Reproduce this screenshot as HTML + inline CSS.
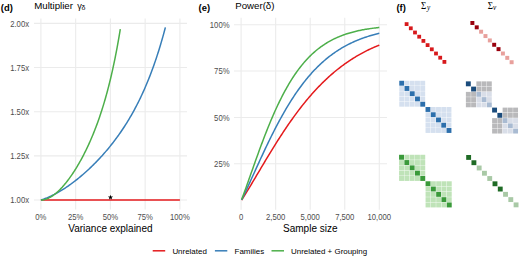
<!DOCTYPE html>
<html><head><meta charset="utf-8"><style>
html,body{margin:0;padding:0;background:#fff;width:520px;height:257px;overflow:hidden}
svg{display:block}
text{font-family:"Liberation Sans", sans-serif}
.tk{font-size:7.7px;fill:#4d4d4d}
.at{font-size:10px;fill:#000}
.tag{font-size:9.4px;font-weight:bold;fill:#000}
.tt{font-size:9.7px;fill:#000}
.sym{font-family:"Liberation Sans",sans-serif;font-size:9.2px}
.sub{font-size:7px}
.sg{font-family:"Liberation Serif",serif;font-size:9px;fill:#000}
.sub2{font-family:"Liberation Serif",serif;font-style:italic;font-size:7.2px}
.lg{font-size:7.95px;fill:#000}
</style></head><body>
<svg width="520" height="257" viewBox="0 0 520 257">
<rect width="520" height="257" fill="#fff"/>
<line x1="34.0" x2="187.0" y1="200.00" y2="200.00" stroke="#ebebeb" stroke-width="1.1"/>
<line x1="34.0" x2="187.0" y1="155.85" y2="155.85" stroke="#ebebeb" stroke-width="1.1"/>
<line x1="34.0" x2="187.0" y1="111.70" y2="111.70" stroke="#ebebeb" stroke-width="1.1"/>
<line x1="34.0" x2="187.0" y1="67.55" y2="67.55" stroke="#ebebeb" stroke-width="1.1"/>
<line x1="34.0" x2="187.0" y1="23.40" y2="23.40" stroke="#ebebeb" stroke-width="1.1"/>
<line y1="18.5" y2="209.5" x1="40.90" x2="40.90" stroke="#ebebeb" stroke-width="1.1"/>
<line y1="18.5" y2="209.5" x1="75.65" x2="75.65" stroke="#ebebeb" stroke-width="1.1"/>
<line y1="18.5" y2="209.5" x1="110.40" x2="110.40" stroke="#ebebeb" stroke-width="1.1"/>
<line y1="18.5" y2="209.5" x1="145.15" x2="145.15" stroke="#ebebeb" stroke-width="1.1"/>
<line y1="18.5" y2="209.5" x1="179.90" x2="179.90" stroke="#ebebeb" stroke-width="1.1"/>
<text transform="translate(29.0,203.10) scale(1,1.1)" text-anchor="end" class="tk">1.00x</text>
<text transform="translate(29.0,158.95) scale(1,1.1)" text-anchor="end" class="tk">1.25x</text>
<text transform="translate(29.0,114.80) scale(1,1.1)" text-anchor="end" class="tk">1.50x</text>
<text transform="translate(29.0,70.65) scale(1,1.1)" text-anchor="end" class="tk">1.75x</text>
<text transform="translate(29.0,26.50) scale(1,1.1)" text-anchor="end" class="tk">2.00x</text>
<text transform="translate(40.90,219.8) scale(1,1.1)" text-anchor="middle" class="tk">0%</text>
<text transform="translate(75.65,219.8) scale(1,1.1)" text-anchor="middle" class="tk">25%</text>
<text transform="translate(110.40,219.8) scale(1,1.1)" text-anchor="middle" class="tk">50%</text>
<text transform="translate(145.15,219.8) scale(1,1.1)" text-anchor="middle" class="tk">75%</text>
<text transform="translate(179.90,219.8) scale(1,1.1)" text-anchor="middle" class="tk">100%</text>
<text x="110.4" y="231.9" text-anchor="middle" class="at">Variance explained</text>
<text x="0.8" y="10.9" class="tag">(d)</text>
<text x="34.2" y="9.1" class="tt">Multiplier</text>
<text x="77.3" y="8.8" class="sym">γ</text>
<text x="81.4" y="10.3" class="sub">δ</text>
<path d="M40.90,200.00 L179.90,200.00" stroke="#E41A1C" stroke-width="1.5" fill="none"/>
<path d="M40.90,200.00 L41.74,199.74 L42.57,199.46 L43.41,199.18 L44.24,198.88 L45.08,198.57 L45.91,198.25 L46.75,197.92 L47.58,197.57 L48.42,197.22 L49.26,196.85 L50.09,196.48 L50.93,196.09 L51.76,195.70 L52.60,195.29 L53.43,194.87 L54.27,194.45 L55.10,194.01 L55.94,193.57 L56.78,193.11 L57.61,192.65 L58.45,192.17 L59.28,191.69 L60.12,191.20 L60.95,190.69 L61.79,190.18 L62.62,189.66 L63.46,189.14 L64.30,188.60 L65.13,188.06 L65.97,187.50 L66.80,186.94 L67.64,186.37 L68.47,185.79 L69.31,185.20 L70.14,184.61 L70.98,184.00 L71.82,183.39 L72.65,182.77 L73.49,182.14 L74.32,181.51 L75.16,180.86 L75.99,180.21 L76.83,179.55 L77.67,178.88 L78.50,178.21 L79.34,177.52 L80.17,176.83 L81.01,176.13 L81.84,175.42 L82.68,174.70 L83.51,173.98 L84.35,173.25 L85.19,172.51 L86.02,171.76 L86.86,171.00 L87.69,170.24 L88.53,169.46 L89.36,168.68 L90.20,167.89 L91.03,167.09 L91.87,166.29 L92.71,165.47 L93.54,164.65 L94.38,163.81 L95.21,162.97 L96.05,162.12 L96.88,161.26 L97.72,160.39 L98.55,159.51 L99.39,158.62 L100.23,157.72 L101.06,156.81 L101.90,155.89 L102.73,154.96 L103.57,154.03 L104.40,153.08 L105.24,152.12 L106.07,151.14 L106.91,150.16 L107.75,149.17 L108.58,148.16 L109.42,147.14 L110.25,146.12 L111.09,145.07 L111.92,144.02 L112.76,142.95 L113.59,141.87 L114.43,140.78 L115.27,139.67 L116.10,138.55 L116.94,137.41 L117.77,136.26 L118.61,135.10 L119.44,133.92 L120.28,132.72 L121.11,131.51 L121.95,130.28 L122.79,129.03 L123.62,127.77 L124.46,126.49 L125.29,125.19 L126.13,123.87 L126.96,122.53 L127.80,121.17 L128.63,119.79 L129.47,118.40 L130.31,116.98 L131.14,115.53 L131.98,114.07 L132.81,112.58 L133.65,111.07 L134.48,109.53 L135.32,107.97 L136.16,106.39 L136.99,104.78 L137.83,103.14 L138.66,101.47 L139.50,99.77 L140.33,98.05 L141.17,96.29 L142.00,94.50 L142.84,92.68 L143.68,90.83 L144.51,88.95 L145.35,87.02 L146.18,85.07 L147.02,83.08 L147.85,81.05 L148.69,78.98 L149.52,76.87 L150.36,74.71 L151.20,72.52 L152.03,70.28 L152.87,68.00 L153.70,65.68 L154.54,63.30 L155.37,60.88 L156.21,58.40 L157.04,55.88 L157.88,53.30 L158.72,50.66 L159.55,47.97 L160.39,45.22 L161.22,42.41 L162.06,39.54 L162.89,36.60 L163.73,33.60 L164.56,30.53 L165.40,27.40" stroke="#377EB8" stroke-width="1.5" fill="none" stroke-linecap="butt"/>
<path d="M40.90,200.00 L41.43,199.99 L41.97,199.96 L42.50,199.91 L43.03,199.84 L43.56,199.76 L44.10,199.65 L44.63,199.53 L45.16,199.39 L45.70,199.24 L46.23,199.06 L46.76,198.87 L47.29,198.67 L47.83,198.45 L48.36,198.21 L48.89,197.95 L49.43,197.68 L49.96,197.40 L50.49,197.10 L51.02,196.79 L51.56,196.46 L52.09,196.12 L52.62,195.76 L53.16,195.39 L53.69,195.01 L54.22,194.61 L54.76,194.21 L55.29,193.78 L55.82,193.35 L56.35,192.90 L56.89,192.44 L57.42,191.96 L57.95,191.48 L58.49,190.98 L59.02,190.47 L59.55,189.95 L60.08,189.42 L60.62,188.87 L61.15,188.31 L61.68,187.75 L62.22,187.17 L62.75,186.57 L63.28,185.97 L63.81,185.36 L64.35,184.74 L64.88,184.10 L65.41,183.45 L65.95,182.80 L66.48,182.13 L67.01,181.45 L67.54,180.76 L68.08,180.06 L68.61,179.35 L69.14,178.63 L69.68,177.90 L70.21,177.16 L70.74,176.40 L71.27,175.64 L71.81,174.87 L72.34,174.08 L72.87,173.28 L73.41,172.48 L73.94,171.66 L74.47,170.83 L75.00,170.00 L75.54,169.15 L76.07,168.29 L76.60,167.42 L77.14,166.53 L77.67,165.64 L78.20,164.74 L78.73,163.82 L79.27,162.89 L79.80,161.95 L80.33,161.00 L80.87,160.04 L81.40,159.07 L81.93,158.08 L82.47,157.08 L83.00,156.07 L83.53,155.05 L84.06,154.01 L84.60,152.96 L85.13,151.90 L85.66,150.82 L86.20,149.73 L86.73,148.63 L87.26,147.51 L87.79,146.38 L88.33,145.23 L88.86,144.07 L89.39,142.89 L89.93,141.70 L90.46,140.49 L90.99,139.27 L91.52,138.03 L92.06,136.77 L92.59,135.49 L93.12,134.20 L93.66,132.89 L94.19,131.56 L94.72,130.21 L95.25,128.84 L95.79,127.45 L96.32,126.05 L96.85,124.62 L97.39,123.17 L97.92,121.69 L98.45,120.20 L98.98,118.68 L99.52,117.14 L100.05,115.57 L100.58,113.98 L101.12,112.36 L101.65,110.72 L102.18,109.05 L102.71,107.35 L103.25,105.63 L103.78,103.87 L104.31,102.09 L104.85,100.27 L105.38,98.42 L105.91,96.54 L106.44,94.63 L106.98,92.68 L107.51,90.69 L108.04,88.67 L108.58,86.62 L109.11,84.52 L109.64,82.38 L110.18,80.20 L110.71,77.98 L111.24,75.72 L111.77,73.41 L112.31,71.06 L112.84,68.65 L113.37,66.20 L113.91,63.70 L114.44,61.15 L114.97,58.54 L115.50,55.88 L116.04,53.16 L116.57,50.38 L117.10,47.55 L117.64,44.65 L118.17,41.68 L118.70,38.65 L119.23,35.55 L119.77,32.39 L120.30,29.14" stroke="#4DAF4A" stroke-width="1.5" fill="none" stroke-linecap="butt"/>
<polygon points="110.50,194.70 111.15,196.51 113.07,196.57 111.55,197.74 112.09,199.58 110.50,198.50 108.91,199.58 109.45,197.74 107.93,196.57 109.85,196.51" fill="#000"/>
<line x1="234.0" x2="387.0" y1="163.82" y2="163.82" stroke="#ebebeb" stroke-width="1.1"/>
<line x1="234.0" x2="387.0" y1="117.45" y2="117.45" stroke="#ebebeb" stroke-width="1.1"/>
<line x1="234.0" x2="387.0" y1="71.07" y2="71.07" stroke="#ebebeb" stroke-width="1.1"/>
<line x1="234.0" x2="387.0" y1="24.70" y2="24.70" stroke="#ebebeb" stroke-width="1.1"/>
<line y1="17.8" y2="209.8" x1="241.10" x2="241.10" stroke="#ebebeb" stroke-width="1.1"/>
<line y1="17.8" y2="209.8" x1="275.65" x2="275.65" stroke="#ebebeb" stroke-width="1.1"/>
<line y1="17.8" y2="209.8" x1="310.20" x2="310.20" stroke="#ebebeb" stroke-width="1.1"/>
<line y1="17.8" y2="209.8" x1="344.75" x2="344.75" stroke="#ebebeb" stroke-width="1.1"/>
<line y1="17.8" y2="209.8" x1="379.30" x2="379.30" stroke="#ebebeb" stroke-width="1.1"/>
<text transform="translate(229.5,166.92) scale(1,1.1)" text-anchor="end" class="tk">25%</text>
<text transform="translate(229.5,120.55) scale(1,1.1)" text-anchor="end" class="tk">50%</text>
<text transform="translate(229.5,74.17) scale(1,1.1)" text-anchor="end" class="tk">75%</text>
<text transform="translate(229.5,27.80) scale(1,1.1)" text-anchor="end" class="tk">100%</text>
<text transform="translate(241.10,219.8) scale(1,1.1)" text-anchor="middle" class="tk">0</text>
<text transform="translate(275.65,219.8) scale(1,1.1)" text-anchor="middle" class="tk">2,500</text>
<text transform="translate(310.20,219.8) scale(1,1.1)" text-anchor="middle" class="tk">5,000</text>
<text transform="translate(344.75,219.8) scale(1,1.1)" text-anchor="middle" class="tk">7,500</text>
<text transform="translate(379.30,219.8) scale(1,1.1)" text-anchor="middle" class="tk">10,000</text>
<text x="310.3" y="231.9" text-anchor="middle" class="at">Sample size</text>
<text x="198.6" y="10.9" class="tag">(e)</text>
<text x="235.2" y="9.1" class="tt">Power(δ)</text>
<path d="M241.65,200.06 L242.58,198.60 L243.50,197.13 L244.42,195.65 L245.35,194.16 L246.27,192.66 L247.20,191.15 L248.12,189.63 L249.04,188.11 L249.97,186.57 L250.89,185.04 L251.81,183.50 L252.74,181.95 L253.66,180.40 L254.59,178.85 L255.51,177.29 L256.43,175.74 L257.36,174.18 L258.28,172.62 L259.21,171.07 L260.13,169.51 L261.05,167.96 L261.98,166.40 L262.90,164.85 L263.82,163.30 L264.75,161.76 L265.67,160.22 L266.60,158.68 L267.52,157.15 L268.44,155.62 L269.37,154.10 L270.29,152.59 L271.21,151.08 L272.14,149.57 L273.06,148.08 L273.99,146.59 L274.91,145.11 L275.83,143.63 L276.76,142.17 L277.68,140.71 L278.61,139.26 L279.53,137.82 L280.45,136.39 L281.38,134.97 L282.30,133.55 L283.22,132.15 L284.15,130.76 L285.07,129.37 L286.00,128.00 L286.92,126.64 L287.84,125.29 L288.77,123.94 L289.69,122.61 L290.61,121.29 L291.54,119.98 L292.46,118.69 L293.39,117.40 L294.31,116.12 L295.23,114.86 L296.16,113.61 L297.08,112.37 L298.01,111.14 L298.93,109.92 L299.85,108.71 L300.78,107.52 L301.70,106.33 L302.62,105.16 L303.55,104.00 L304.47,102.86 L305.40,101.72 L306.32,100.60 L307.24,99.49 L308.17,98.39 L309.09,97.30 L310.01,96.22 L310.94,95.16 L311.86,94.11 L312.79,93.07 L313.71,92.04 L314.63,91.02 L315.56,90.02 L316.48,89.02 L317.40,88.04 L318.33,87.07 L319.25,86.11 L320.18,85.16 L321.10,84.23 L322.02,83.30 L322.95,82.39 L323.87,81.49 L324.80,80.60 L325.72,79.72 L326.64,78.85 L327.57,78.00 L328.49,77.15 L329.41,76.31 L330.34,75.49 L331.26,74.68 L332.19,73.87 L333.11,73.08 L334.03,72.30 L334.96,71.53 L335.88,70.77 L336.80,70.02 L337.73,69.28 L338.65,68.55 L339.58,67.83 L340.50,67.12 L341.42,66.42 L342.35,65.73 L343.27,65.05 L344.20,64.37 L345.12,63.71 L346.04,63.06 L346.97,62.42 L347.89,61.78 L348.81,61.16 L349.74,60.54 L350.66,59.94 L351.59,59.34 L352.51,58.75 L353.43,58.17 L354.36,57.60 L355.28,57.03 L356.20,56.48 L357.13,55.93 L358.05,55.39 L358.98,54.86 L359.90,54.34 L360.82,53.83 L361.75,53.32 L362.67,52.82 L363.60,52.33 L364.52,51.85 L365.44,51.37 L366.37,50.90 L367.29,50.44 L368.21,49.99 L369.14,49.54 L370.06,49.10 L370.99,48.67 L371.91,48.24 L372.83,47.82 L373.76,47.41 L374.68,47.01 L375.60,46.61 L376.53,46.21 L377.45,45.83 L378.38,45.45 L379.30,45.07" stroke="#E41A1C" stroke-width="1.5" fill="none"/>
<path d="M241.65,199.80 L242.58,197.89 L243.50,195.96 L244.42,194.02 L245.35,192.06 L246.27,190.08 L247.20,188.10 L248.12,186.10 L249.04,184.09 L249.97,182.08 L250.89,180.05 L251.81,178.03 L252.74,176.00 L253.66,173.97 L254.59,171.94 L255.51,169.91 L256.43,167.88 L257.36,165.86 L258.28,163.84 L259.21,161.82 L260.13,159.81 L261.05,157.81 L261.98,155.82 L262.90,153.83 L263.82,151.86 L264.75,149.90 L265.67,147.94 L266.60,146.00 L267.52,144.08 L268.44,142.16 L269.37,140.27 L270.29,138.38 L271.21,136.51 L272.14,134.66 L273.06,132.82 L273.99,131.00 L274.91,129.19 L275.83,127.41 L276.76,125.64 L277.68,123.89 L278.61,122.15 L279.53,120.44 L280.45,118.74 L281.38,117.07 L282.30,115.41 L283.22,113.77 L284.15,112.15 L285.07,110.55 L286.00,108.98 L286.92,107.42 L287.84,105.88 L288.77,104.36 L289.69,102.86 L290.61,101.38 L291.54,99.92 L292.46,98.49 L293.39,97.07 L294.31,95.67 L295.23,94.29 L296.16,92.94 L297.08,91.60 L298.01,90.28 L298.93,88.98 L299.85,87.71 L300.78,86.45 L301.70,85.21 L302.62,83.99 L303.55,82.79 L304.47,81.61 L305.40,80.45 L306.32,79.31 L307.24,78.19 L308.17,77.08 L309.09,76.00 L310.01,74.93 L310.94,73.88 L311.86,72.85 L312.79,71.84 L313.71,70.84 L314.63,69.86 L315.56,68.90 L316.48,67.96 L317.40,67.03 L318.33,66.12 L319.25,65.23 L320.18,64.35 L321.10,63.49 L322.02,62.65 L322.95,61.82 L323.87,61.00 L324.80,60.21 L325.72,59.42 L326.64,58.65 L327.57,57.90 L328.49,57.16 L329.41,56.44 L330.34,55.73 L331.26,55.03 L332.19,54.35 L333.11,53.68 L334.03,53.02 L334.96,52.38 L335.88,51.75 L336.80,51.13 L337.73,50.53 L338.65,49.94 L339.58,49.36 L340.50,48.79 L341.42,48.23 L342.35,47.69 L343.27,47.15 L344.20,46.63 L345.12,46.12 L346.04,45.62 L346.97,45.13 L347.89,44.65 L348.81,44.18 L349.74,43.72 L350.66,43.27 L351.59,42.83 L352.51,42.40 L353.43,41.97 L354.36,41.56 L355.28,41.16 L356.20,40.76 L357.13,40.38 L358.05,40.00 L358.98,39.63 L359.90,39.27 L360.82,38.92 L361.75,38.57 L362.67,38.24 L363.60,37.91 L364.52,37.58 L365.44,37.27 L366.37,36.96 L367.29,36.66 L368.21,36.36 L369.14,36.08 L370.06,35.80 L370.99,35.52 L371.91,35.25 L372.83,34.99 L373.76,34.74 L374.68,34.49 L375.60,34.24 L376.53,34.00 L377.45,33.77 L378.38,33.54 L379.30,33.32" stroke="#377EB8" stroke-width="1.5" fill="none"/>
<path d="M241.65,199.47 L242.58,197.01 L243.50,194.51 L244.42,191.99 L245.35,189.44 L246.27,186.88 L247.20,184.30 L248.12,181.70 L249.04,179.10 L249.97,176.49 L250.89,173.87 L251.81,171.26 L252.74,168.65 L253.66,166.04 L254.59,163.44 L255.51,160.85 L256.43,158.27 L257.36,155.70 L258.28,153.15 L259.21,150.61 L260.13,148.09 L261.05,145.60 L261.98,143.12 L262.90,140.67 L263.82,138.24 L264.75,135.84 L265.67,133.46 L266.60,131.11 L267.52,128.79 L268.44,126.50 L269.37,124.24 L270.29,122.00 L271.21,119.80 L272.14,117.63 L273.06,115.49 L273.99,113.39 L274.91,111.31 L275.83,109.27 L276.76,107.26 L277.68,105.29 L278.61,103.35 L279.53,101.44 L280.45,99.56 L281.38,97.72 L282.30,95.91 L283.22,94.14 L284.15,92.40 L285.07,90.69 L286.00,89.02 L286.92,87.37 L287.84,85.77 L288.77,84.19 L289.69,82.64 L290.61,81.13 L291.54,79.65 L292.46,78.20 L293.39,76.78 L294.31,75.39 L295.23,74.04 L296.16,72.71 L297.08,71.41 L298.01,70.14 L298.93,68.90 L299.85,67.69 L300.78,66.51 L301.70,65.35 L302.62,64.22 L303.55,63.12 L304.47,62.04 L305.40,60.99 L306.32,59.97 L307.24,58.97 L308.17,57.99 L309.09,57.04 L310.01,56.12 L310.94,55.21 L311.86,54.33 L312.79,53.47 L313.71,52.64 L314.63,51.82 L315.56,51.03 L316.48,50.25 L317.40,49.50 L318.33,48.77 L319.25,48.05 L320.18,47.36 L321.10,46.68 L322.02,46.02 L322.95,45.38 L323.87,44.76 L324.80,44.15 L325.72,43.56 L326.64,42.99 L327.57,42.43 L328.49,41.89 L329.41,41.36 L330.34,40.85 L331.26,40.35 L332.19,39.87 L333.11,39.40 L334.03,38.94 L334.96,38.50 L335.88,38.07 L336.80,37.65 L337.73,37.24 L338.65,36.85 L339.58,36.47 L340.50,36.09 L341.42,35.73 L342.35,35.38 L343.27,35.04 L344.20,34.71 L345.12,34.39 L346.04,34.08 L346.97,33.78 L347.89,33.49 L348.81,33.21 L349.74,32.93 L350.66,32.66 L351.59,32.41 L352.51,32.16 L353.43,31.91 L354.36,31.68 L355.28,31.45 L356.20,31.23 L357.13,31.01 L358.05,30.81 L358.98,30.60 L359.90,30.41 L360.82,30.22 L361.75,30.04 L362.67,29.86 L363.60,29.69 L364.52,29.52 L365.44,29.36 L366.37,29.20 L367.29,29.05 L368.21,28.91 L369.14,28.77 L370.06,28.63 L370.99,28.50 L371.91,28.37 L372.83,28.24 L373.76,28.12 L374.68,28.01 L375.60,27.90 L376.53,27.79 L377.45,27.68 L378.38,27.58 L379.30,27.48" stroke="#4DAF4A" stroke-width="1.5" fill="none"/>
<text x="396.4" y="10.9" class="tag">(f)</text>
<text transform="translate(421.1,8.9) scale(1,1.12)" class="sg">Σ</text><text x="426.9" y="9.9" class="sub2">y</text>
<text transform="translate(487.7,8.6) scale(1,1.12)" class="sg">Σ</text><text x="492.9" y="9.9" class="sub2">v</text>
<rect x="404.70" y="22.20" width="3.80" height="3.80" fill="#D7191C"/><rect x="408.90" y="26.40" width="3.80" height="3.80" fill="#D7191C"/><rect x="413.10" y="30.60" width="3.80" height="3.80" fill="#D7191C"/><rect x="417.30" y="34.80" width="3.80" height="3.80" fill="#D7191C"/><rect x="421.50" y="39.00" width="3.80" height="3.80" fill="#D7191C"/><rect x="425.70" y="43.20" width="3.80" height="3.80" fill="#D7191C"/><rect x="429.90" y="47.40" width="3.80" height="3.80" fill="#D7191C"/><rect x="434.10" y="51.60" width="3.80" height="3.80" fill="#D7191C"/><rect x="438.30" y="55.80" width="3.80" height="3.80" fill="#D7191C"/><rect x="442.50" y="60.00" width="3.80" height="3.80" fill="#D7191C"/>
<rect x="470.40" y="21.00" width="3.96" height="3.96" fill="#99000D"/><rect x="474.76" y="25.36" width="3.96" height="3.96" fill="#99000D"/><rect x="479.12" y="29.72" width="3.96" height="3.96" fill="#E8A09C"/><rect x="483.48" y="34.08" width="3.96" height="3.96" fill="#E8A09C"/><rect x="487.84" y="38.44" width="3.96" height="3.96" fill="#E8A09C"/><rect x="492.20" y="42.80" width="3.96" height="3.96" fill="#99000D"/><rect x="496.56" y="47.16" width="3.96" height="3.96" fill="#99000D"/><rect x="500.92" y="51.52" width="3.96" height="3.96" fill="#E8A09C"/><rect x="505.28" y="55.88" width="3.96" height="3.96" fill="#E8A09C"/><rect x="509.64" y="60.24" width="3.96" height="3.96" fill="#E8A09C"/>
<rect x="399.28" y="80.77" width="4.90" height="4.90" fill="#2C6FAC"/><rect x="404.53" y="80.77" width="4.90" height="4.90" fill="#D5E0EF"/><rect x="409.78" y="80.77" width="4.90" height="4.90" fill="#D5E0EF"/><rect x="415.03" y="80.77" width="4.90" height="4.90" fill="#D5E0EF"/><rect x="420.28" y="80.77" width="4.90" height="4.90" fill="#D5E0EF"/><rect x="399.28" y="86.02" width="4.90" height="4.90" fill="#D5E0EF"/><rect x="404.53" y="86.02" width="4.90" height="4.90" fill="#2C6FAC"/><rect x="409.78" y="86.02" width="4.90" height="4.90" fill="#D5E0EF"/><rect x="415.03" y="86.02" width="4.90" height="4.90" fill="#D5E0EF"/><rect x="420.28" y="86.02" width="4.90" height="4.90" fill="#D5E0EF"/><rect x="399.28" y="91.27" width="4.90" height="4.90" fill="#D5E0EF"/><rect x="404.53" y="91.27" width="4.90" height="4.90" fill="#D5E0EF"/><rect x="409.78" y="91.27" width="4.90" height="4.90" fill="#2C6FAC"/><rect x="415.03" y="91.27" width="4.90" height="4.90" fill="#D5E0EF"/><rect x="420.28" y="91.27" width="4.90" height="4.90" fill="#D5E0EF"/><rect x="399.28" y="96.52" width="4.90" height="4.90" fill="#D5E0EF"/><rect x="404.53" y="96.52" width="4.90" height="4.90" fill="#D5E0EF"/><rect x="409.78" y="96.52" width="4.90" height="4.90" fill="#D5E0EF"/><rect x="415.03" y="96.52" width="4.90" height="4.90" fill="#2C6FAC"/><rect x="420.28" y="96.52" width="4.90" height="4.90" fill="#D5E0EF"/><rect x="399.28" y="101.77" width="4.90" height="4.90" fill="#D5E0EF"/><rect x="404.53" y="101.77" width="4.90" height="4.90" fill="#D5E0EF"/><rect x="409.78" y="101.77" width="4.90" height="4.90" fill="#D5E0EF"/><rect x="415.03" y="101.77" width="4.90" height="4.90" fill="#D5E0EF"/><rect x="420.28" y="101.77" width="4.90" height="4.90" fill="#2C6FAC"/><rect x="425.53" y="107.02" width="4.90" height="4.90" fill="#2C6FAC"/><rect x="430.78" y="107.02" width="4.90" height="4.90" fill="#D5E0EF"/><rect x="436.03" y="107.02" width="4.90" height="4.90" fill="#D5E0EF"/><rect x="441.28" y="107.02" width="4.90" height="4.90" fill="#D5E0EF"/><rect x="446.53" y="107.02" width="4.90" height="4.90" fill="#D5E0EF"/><rect x="425.53" y="112.27" width="4.90" height="4.90" fill="#D5E0EF"/><rect x="430.78" y="112.27" width="4.90" height="4.90" fill="#2C6FAC"/><rect x="436.03" y="112.27" width="4.90" height="4.90" fill="#D5E0EF"/><rect x="441.28" y="112.27" width="4.90" height="4.90" fill="#D5E0EF"/><rect x="446.53" y="112.27" width="4.90" height="4.90" fill="#D5E0EF"/><rect x="425.53" y="117.52" width="4.90" height="4.90" fill="#D5E0EF"/><rect x="430.78" y="117.52" width="4.90" height="4.90" fill="#D5E0EF"/><rect x="436.03" y="117.52" width="4.90" height="4.90" fill="#2C6FAC"/><rect x="441.28" y="117.52" width="4.90" height="4.90" fill="#D5E0EF"/><rect x="446.53" y="117.52" width="4.90" height="4.90" fill="#D5E0EF"/><rect x="425.53" y="122.77" width="4.90" height="4.90" fill="#D5E0EF"/><rect x="430.78" y="122.77" width="4.90" height="4.90" fill="#D5E0EF"/><rect x="436.03" y="122.77" width="4.90" height="4.90" fill="#D5E0EF"/><rect x="441.28" y="122.77" width="4.90" height="4.90" fill="#2C6FAC"/><rect x="446.53" y="122.77" width="4.90" height="4.90" fill="#D5E0EF"/><rect x="425.53" y="128.03" width="4.90" height="4.90" fill="#D5E0EF"/><rect x="430.78" y="128.03" width="4.90" height="4.90" fill="#D5E0EF"/><rect x="436.03" y="128.03" width="4.90" height="4.90" fill="#D5E0EF"/><rect x="441.28" y="128.03" width="4.90" height="4.90" fill="#D5E0EF"/><rect x="446.53" y="128.03" width="4.90" height="4.90" fill="#2C6FAC"/>
<rect x="465.88" y="81.38" width="4.90" height="4.90" fill="#1B4C7C"/><rect x="476.38" y="81.38" width="4.90" height="4.90" fill="#B9B9BB"/><rect x="481.62" y="81.38" width="4.90" height="4.90" fill="#B9B9BB"/><rect x="486.88" y="81.38" width="4.90" height="4.90" fill="#B9B9BB"/><rect x="471.12" y="86.62" width="4.90" height="4.90" fill="#1B4C7C"/><rect x="476.38" y="86.62" width="4.90" height="4.90" fill="#B9B9BB"/><rect x="481.62" y="86.62" width="4.90" height="4.90" fill="#B9B9BB"/><rect x="486.88" y="86.62" width="4.90" height="4.90" fill="#B9B9BB"/><rect x="465.88" y="91.88" width="4.90" height="4.90" fill="#B9B9BB"/><rect x="471.12" y="91.88" width="4.90" height="4.90" fill="#B9B9BB"/><rect x="476.38" y="91.88" width="4.90" height="4.90" fill="#A9BBD2"/><rect x="481.62" y="91.88" width="4.90" height="4.90" fill="#D9DEE8"/><rect x="486.88" y="91.88" width="4.90" height="4.90" fill="#D9DEE8"/><rect x="465.88" y="97.12" width="4.90" height="4.90" fill="#B9B9BB"/><rect x="471.12" y="97.12" width="4.90" height="4.90" fill="#B9B9BB"/><rect x="476.38" y="97.12" width="4.90" height="4.90" fill="#D9DEE8"/><rect x="481.62" y="97.12" width="4.90" height="4.90" fill="#A9BBD2"/><rect x="486.88" y="97.12" width="4.90" height="4.90" fill="#D9DEE8"/><rect x="465.88" y="102.38" width="4.90" height="4.90" fill="#B9B9BB"/><rect x="471.12" y="102.38" width="4.90" height="4.90" fill="#B9B9BB"/><rect x="476.38" y="102.38" width="4.90" height="4.90" fill="#D9DEE8"/><rect x="481.62" y="102.38" width="4.90" height="4.90" fill="#D9DEE8"/><rect x="486.88" y="102.38" width="4.90" height="4.90" fill="#A9BBD2"/><rect x="492.12" y="107.62" width="4.90" height="4.90" fill="#1B4C7C"/><rect x="502.62" y="107.62" width="4.90" height="4.90" fill="#B9B9BB"/><rect x="507.88" y="107.62" width="4.90" height="4.90" fill="#B9B9BB"/><rect x="513.12" y="107.62" width="4.90" height="4.90" fill="#B9B9BB"/><rect x="497.38" y="112.88" width="4.90" height="4.90" fill="#1B4C7C"/><rect x="502.62" y="112.88" width="4.90" height="4.90" fill="#B9B9BB"/><rect x="507.88" y="112.88" width="4.90" height="4.90" fill="#B9B9BB"/><rect x="513.12" y="112.88" width="4.90" height="4.90" fill="#B9B9BB"/><rect x="492.12" y="118.12" width="4.90" height="4.90" fill="#B9B9BB"/><rect x="497.38" y="118.12" width="4.90" height="4.90" fill="#B9B9BB"/><rect x="502.62" y="118.12" width="4.90" height="4.90" fill="#A9BBD2"/><rect x="507.88" y="118.12" width="4.90" height="4.90" fill="#D9DEE8"/><rect x="513.12" y="118.12" width="4.90" height="4.90" fill="#D9DEE8"/><rect x="492.12" y="123.38" width="4.90" height="4.90" fill="#B9B9BB"/><rect x="497.38" y="123.38" width="4.90" height="4.90" fill="#B9B9BB"/><rect x="502.62" y="123.38" width="4.90" height="4.90" fill="#D9DEE8"/><rect x="507.88" y="123.38" width="4.90" height="4.90" fill="#A9BBD2"/><rect x="513.12" y="123.38" width="4.90" height="4.90" fill="#D9DEE8"/><rect x="492.12" y="128.62" width="4.90" height="4.90" fill="#B9B9BB"/><rect x="497.38" y="128.62" width="4.90" height="4.90" fill="#B9B9BB"/><rect x="502.62" y="128.62" width="4.90" height="4.90" fill="#D9DEE8"/><rect x="507.88" y="128.62" width="4.90" height="4.90" fill="#D9DEE8"/><rect x="513.12" y="128.62" width="4.90" height="4.90" fill="#A9BBD2"/>
<rect x="399.07" y="154.78" width="4.95" height="4.95" fill="#3A9A3A"/><rect x="404.38" y="154.78" width="4.95" height="4.95" fill="#BFE3B8"/><rect x="409.68" y="154.78" width="4.95" height="4.95" fill="#BFE3B8"/><rect x="414.97" y="154.78" width="4.95" height="4.95" fill="#BFE3B8"/><rect x="420.27" y="154.78" width="4.95" height="4.95" fill="#BFE3B8"/><rect x="399.07" y="160.08" width="4.95" height="4.95" fill="#BFE3B8"/><rect x="404.38" y="160.08" width="4.95" height="4.95" fill="#3A9A3A"/><rect x="409.68" y="160.08" width="4.95" height="4.95" fill="#BFE3B8"/><rect x="414.97" y="160.08" width="4.95" height="4.95" fill="#BFE3B8"/><rect x="420.27" y="160.08" width="4.95" height="4.95" fill="#BFE3B8"/><rect x="399.07" y="165.38" width="4.95" height="4.95" fill="#BFE3B8"/><rect x="404.38" y="165.38" width="4.95" height="4.95" fill="#BFE3B8"/><rect x="409.68" y="165.38" width="4.95" height="4.95" fill="#3A9A3A"/><rect x="414.97" y="165.38" width="4.95" height="4.95" fill="#BFE3B8"/><rect x="420.27" y="165.38" width="4.95" height="4.95" fill="#BFE3B8"/><rect x="399.07" y="170.68" width="4.95" height="4.95" fill="#BFE3B8"/><rect x="404.38" y="170.68" width="4.95" height="4.95" fill="#BFE3B8"/><rect x="409.68" y="170.68" width="4.95" height="4.95" fill="#BFE3B8"/><rect x="414.97" y="170.68" width="4.95" height="4.95" fill="#3A9A3A"/><rect x="420.27" y="170.68" width="4.95" height="4.95" fill="#BFE3B8"/><rect x="399.07" y="175.97" width="4.95" height="4.95" fill="#BFE3B8"/><rect x="404.38" y="175.97" width="4.95" height="4.95" fill="#BFE3B8"/><rect x="409.68" y="175.97" width="4.95" height="4.95" fill="#BFE3B8"/><rect x="414.97" y="175.97" width="4.95" height="4.95" fill="#BFE3B8"/><rect x="420.27" y="175.97" width="4.95" height="4.95" fill="#3A9A3A"/><rect x="425.57" y="181.28" width="4.95" height="4.95" fill="#3A9A3A"/><rect x="430.88" y="181.28" width="4.95" height="4.95" fill="#BFE3B8"/><rect x="436.18" y="181.28" width="4.95" height="4.95" fill="#BFE3B8"/><rect x="441.47" y="181.28" width="4.95" height="4.95" fill="#BFE3B8"/><rect x="446.77" y="181.28" width="4.95" height="4.95" fill="#BFE3B8"/><rect x="425.57" y="186.57" width="4.95" height="4.95" fill="#BFE3B8"/><rect x="430.88" y="186.57" width="4.95" height="4.95" fill="#3A9A3A"/><rect x="436.18" y="186.57" width="4.95" height="4.95" fill="#BFE3B8"/><rect x="441.47" y="186.57" width="4.95" height="4.95" fill="#BFE3B8"/><rect x="446.77" y="186.57" width="4.95" height="4.95" fill="#BFE3B8"/><rect x="425.57" y="191.88" width="4.95" height="4.95" fill="#BFE3B8"/><rect x="430.88" y="191.88" width="4.95" height="4.95" fill="#BFE3B8"/><rect x="436.18" y="191.88" width="4.95" height="4.95" fill="#3A9A3A"/><rect x="441.47" y="191.88" width="4.95" height="4.95" fill="#BFE3B8"/><rect x="446.77" y="191.88" width="4.95" height="4.95" fill="#BFE3B8"/><rect x="425.57" y="197.18" width="4.95" height="4.95" fill="#BFE3B8"/><rect x="430.88" y="197.18" width="4.95" height="4.95" fill="#BFE3B8"/><rect x="436.18" y="197.18" width="4.95" height="4.95" fill="#BFE3B8"/><rect x="441.47" y="197.18" width="4.95" height="4.95" fill="#3A9A3A"/><rect x="446.77" y="197.18" width="4.95" height="4.95" fill="#BFE3B8"/><rect x="425.57" y="202.47" width="4.95" height="4.95" fill="#BFE3B8"/><rect x="430.88" y="202.47" width="4.95" height="4.95" fill="#BFE3B8"/><rect x="436.18" y="202.47" width="4.95" height="4.95" fill="#BFE3B8"/><rect x="441.47" y="202.47" width="4.95" height="4.95" fill="#BFE3B8"/><rect x="446.77" y="202.47" width="4.95" height="4.95" fill="#3A9A3A"/>
<rect x="466.20" y="155.00" width="4.87" height="4.87" fill="#1F6B25"/><rect x="471.47" y="160.27" width="4.87" height="4.87" fill="#1F6B25"/><rect x="476.74" y="165.54" width="4.87" height="4.87" fill="#A9C9A6"/><rect x="482.01" y="170.81" width="4.87" height="4.87" fill="#A9C9A6"/><rect x="487.28" y="176.08" width="4.87" height="4.87" fill="#A9C9A6"/><rect x="492.55" y="181.35" width="4.87" height="4.87" fill="#1F6B25"/><rect x="497.82" y="186.62" width="4.87" height="4.87" fill="#1F6B25"/><rect x="503.09" y="191.89" width="4.87" height="4.87" fill="#A9C9A6"/><rect x="508.36" y="197.16" width="4.87" height="4.87" fill="#A9C9A6"/><rect x="513.63" y="202.43" width="4.87" height="4.87" fill="#A9C9A6"/>
<line x1="152.7" x2="165.2" y1="250.8" y2="250.8" stroke="#E41A1C" stroke-width="1.5"/>
<text x="172.4" y="253.5" class="lg">Unrelated</text>
<line x1="214.9" x2="227.3" y1="250.8" y2="250.8" stroke="#377EB8" stroke-width="1.5"/>
<text x="234.6" y="253.5" class="lg">Families</text>
<line x1="271.5" x2="284.0" y1="250.8" y2="250.8" stroke="#4DAF4A" stroke-width="1.5"/>
<text x="291.0" y="253.5" class="lg">Unrelated + Grouping</text>
</svg>
</body></html>
